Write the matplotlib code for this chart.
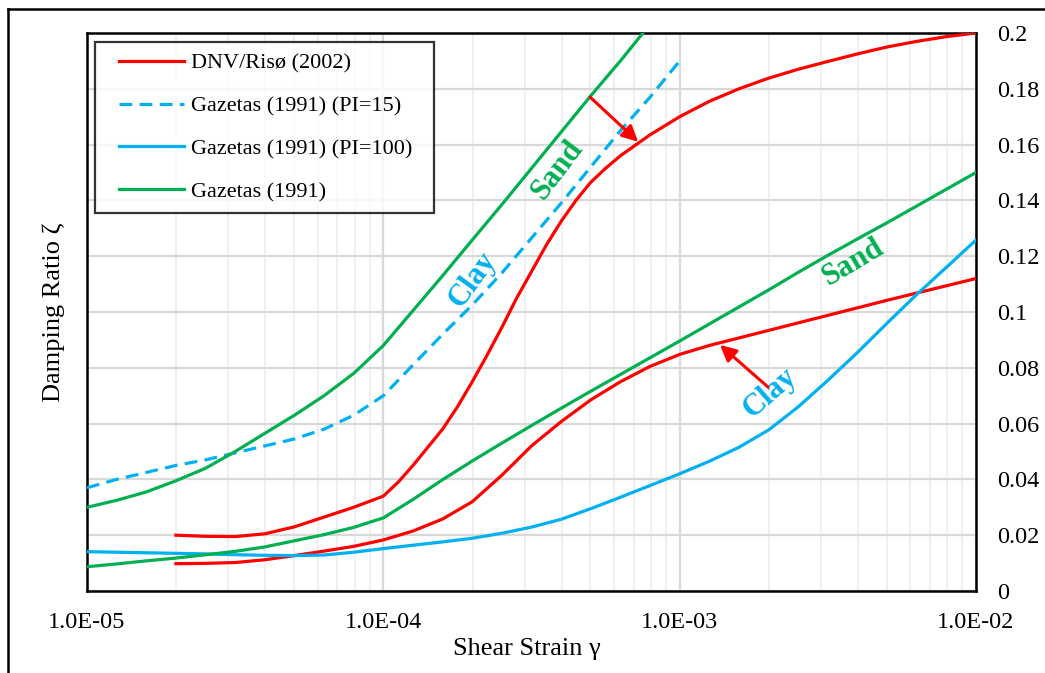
import matplotlib
matplotlib.use("Agg")
import matplotlib.pyplot as plt
from matplotlib.lines import Line2D
from matplotlib.legend_handler import HandlerLine2D
from matplotlib.ticker import FixedLocator, LogLocator, NullFormatter

plt.rcParams['font.family'] = ['Liberation Serif', 'DejaVu Serif']

# ---- data (strain given as log10 exponents) ----
# DNV/Risø (2002) upper bound
dnv_up_exp = [-4.7, -4.6, -4.5, -4.4, -4.3, -4.2, -4.1, -4.0, -3.95, -3.9, -3.85,
              -3.8, -3.75, -3.7, -3.65, -3.6, -3.55, -3.5, -3.45, -3.4, -3.35,
              -3.3, -3.25, -3.2, -3.1, -3.0, -2.9, -2.8, -2.7, -2.6, -2.5, -2.4,
              -2.3, -2.2, -2.1, -2.0]
dnv_upper = [0.020, 0.0196, 0.0195, 0.0205, 0.023, 0.0265, 0.030, 0.034, 0.039,
             0.045, 0.0515, 0.058, 0.066, 0.075, 0.0845, 0.0945, 0.105, 0.1145,
             0.124, 0.1325, 0.140, 0.1465, 0.1515, 0.156, 0.1635, 0.170, 0.1755,
             0.180, 0.1838, 0.187, 0.1898, 0.1925, 0.195, 0.197, 0.1987, 0.200]

# DNV/Risø (2002) lower bound
dnv_lo_exp = [-4.7, -4.6, -4.5, -4.4, -4.3, -4.2, -4.1, -4.0, -3.9, -3.8, -3.7,
              -3.6, -3.5, -3.4, -3.3, -3.2, -3.1, -3.0, -2.9, -2.8, -2.7, -2.6,
              -2.5, -2.4, -2.3, -2.2, -2.1, -2.0]
dnv_lower = [0.0098, 0.0099, 0.0102, 0.0112, 0.0127, 0.0143, 0.016, 0.0183,
             0.0215, 0.0258, 0.032, 0.0415, 0.052, 0.0607, 0.0685, 0.075, 0.0805,
             0.0848, 0.088, 0.0907, 0.0934, 0.0961, 0.0988, 0.1015, 0.1042,
             0.1068, 0.1094, 0.112]

# Gazetas (1991) PI=15 (clay, dashed)
pi15_exp = [-5.0, -4.9, -4.8, -4.7, -4.6, -4.5, -4.4, -4.3, -4.2, -4.1, -4.0,
            -3.9, -3.8, -3.7, -3.6, -3.5, -3.4, -3.3, -3.2, -3.1, -3.0]
pi15_damp = [0.037, 0.040, 0.0425, 0.045, 0.047, 0.0495, 0.052, 0.0545, 0.058,
             0.063, 0.070, 0.081, 0.092, 0.1025, 0.114, 0.1265, 0.139, 0.152,
             0.165, 0.177, 0.190]

# Gazetas (1991) PI=100 (clay, solid)
pi100_exp = [-5.0, -4.9, -4.8, -4.7, -4.6, -4.5, -4.4, -4.3, -4.2, -4.1, -4.0,
             -3.9, -3.8, -3.7, -3.6, -3.5, -3.4, -3.3, -3.2, -3.1, -3.0, -2.9,
             -2.8, -2.7, -2.6, -2.5, -2.4, -2.3, -2.2, -2.1, -2.0]
pi100_damp = [0.0141, 0.0139, 0.0137, 0.0135, 0.0133, 0.0130, 0.0128, 0.0127,
              0.0129, 0.0139, 0.0152, 0.0164, 0.0176, 0.0189, 0.0207, 0.0229,
              0.0257, 0.0295, 0.0336, 0.0378, 0.042, 0.0465, 0.0515, 0.0577,
              0.066, 0.0755, 0.0855, 0.096, 0.1063, 0.116, 0.1258]

# Gazetas (1991) sand upper bound
sand_up_exp = [-5.0, -4.9, -4.8, -4.7, -4.6, -4.5, -4.4, -4.3, -4.2, -4.1, -4.0,
               -3.9, -3.8, -3.7, -3.6, -3.5, -3.4, -3.3, -3.2, -3.12]
sand_upper = [0.030, 0.0325, 0.0355, 0.0395, 0.044, 0.050, 0.0565, 0.063, 0.070,
              0.078, 0.088, 0.1005, 0.113, 0.1258, 0.1385, 0.1515, 0.1645, 0.1775,
              0.190, 0.2005]

# Gazetas (1991) sand lower bound
sand_lo_exp = [-5.0, -4.9, -4.8, -4.7, -4.6, -4.5, -4.4, -4.3, -4.2, -4.1, -4.0,
               -3.9, -3.8, -3.7, -3.6, -3.5, -3.4, -3.3, -3.2, -3.1, -3.0, -2.9,
               -2.8, -2.7, -2.6, -2.5, -2.4, -2.3, -2.2, -2.1, -2.0]
sand_lower = [0.0087, 0.0097, 0.0108, 0.0118, 0.0130, 0.0142, 0.0158, 0.0180,
              0.0202, 0.0228, 0.0262, 0.0328, 0.0399, 0.0466, 0.053, 0.0593,
              0.0655, 0.0716, 0.0776, 0.0836, 0.0896, 0.0957, 0.1018, 0.1079,
              0.1142, 0.1203, 0.1262, 0.132, 0.138, 0.144, 0.150]

x_ticks = [1e-5, 1e-4, 1e-3, 1e-2]
x_ticklabels = ["1.0E-05", "1.0E-04", "1.0E-03", "1.0E-02"]
y_ticks = [0, 0.02, 0.04, 0.06, 0.08, 0.1, 0.12, 0.14, 0.16, 0.18, 0.2]
y_ticklabels = ["0", "0.02", "0.04", "0.06", "0.08", "0.1", "0.12", "0.14",
                "0.16", "0.18", "0.2"]

RED = "#FF0000"
BLUE = "#00B0F0"
GREEN = "#00B050"


def to_strain(exps):
    return [10.0 ** e for e in exps]


fig = plt.figure(figsize=(10.45, 6.73), dpi=100)
ax = fig.add_axes([87 / 1045, 1 - 591 / 673, (976 - 87) / 1045, (591 - 33) / 673])

lw = 2.3
ax.plot(to_strain(dnv_up_exp), dnv_upper, color=RED, lw=lw,
        label="DNV/Risø (2002)", zorder=3, solid_joinstyle="round")
ax.plot(to_strain(dnv_lo_exp), dnv_lower, color=RED, lw=lw, zorder=3,
        solid_joinstyle="round")
ax.plot(to_strain(pi15_exp), pi15_damp, color=BLUE, lw=lw, dashes=(4, 2.3),
        label="Gazetas (1991) (PI=15)", zorder=3)
ax.plot(to_strain(pi100_exp), pi100_damp, color=BLUE, lw=lw,
        label="Gazetas (1991) (PI=100)", zorder=3, solid_joinstyle="round")
ax.plot(to_strain(sand_up_exp), sand_upper, color=GREEN, lw=lw,
        label="Gazetas (1991)", zorder=3, solid_joinstyle="round")
ax.plot(to_strain(sand_lo_exp), sand_lower, color=GREEN, lw=lw, zorder=3,
        solid_joinstyle="round")

ax.set_xscale("log")
ax.set_xlim(1e-5, 1e-2)
ax.set_ylim(0, 0.2)

ax.xaxis.set_major_locator(FixedLocator(x_ticks))
ax.set_xticklabels(x_ticklabels)
ax.xaxis.set_minor_locator(LogLocator(base=10, subs=range(2, 10), numticks=20))
ax.xaxis.set_minor_formatter(NullFormatter())
ax.set_yticks(y_ticks)
ax.set_yticklabels(y_ticklabels)

ax.yaxis.tick_right()
ax.tick_params(axis="both", which="both", length=0, labelsize=17.5)
ax.tick_params(axis="x", pad=15)
ax.tick_params(axis="y", pad=15)

ax.grid(True, which="major", color="#d9d9d9", lw=1.6, zorder=0)
ax.grid(True, which="minor", axis="x", color="#ededed", lw=1.2, zorder=0)
ax.set_axisbelow(True)
for s in ax.spines.values():
    s.set_linewidth(1.8)
    s.set_color("black")

ax.set_xlabel("Shear Strain γ", fontsize=19)
ax.xaxis.set_label_coords(0.495, -0.085)
ax.yaxis.set_label_position("left")
ax.set_ylabel("Damping Ratio ζ", fontsize=19, labelpad=16)

leg = ax.legend(loc="upper left",
                bbox_to_anchor=(8 / 889, 1 - 9 / 558, (434 - 95) / 889, 0.0),
                mode="expand",
                fontsize=16, frameon=True, fancybox=False, borderaxespad=0,
                handlelength=3.5, labelspacing=1.0, borderpad=0.5,
                handletextpad=0.33,
                handler_map={Line2D: HandlerLine2D(xpad=0.6)})
leg.get_frame().set_edgecolor("black")
leg.get_frame().set_linewidth(1.6)

# annotations
ax.text(10 ** -3.414, 0.151, "Sand", color=GREEN, fontsize=22, fontweight="bold",
        rotation=53, ha="center", va="center", zorder=4)
ax.text(10 ** -3.697, 0.1115, "Clay", color=BLUE, fontsize=22, fontweight="bold",
        rotation=54, ha="center", va="center", zorder=4)
ax.text(10 ** -2.415, 0.1176, "Sand", color=GREEN, fontsize=22, fontweight="bold",
        rotation=31, ha="center", va="center", zorder=4)
ax.text(10 ** -2.695, 0.071, "Clay", color=BLUE, fontsize=22, fontweight="bold",
        rotation=41, ha="center", va="center", zorder=4)

ax.annotate("", xy=(10 ** -3.140, 0.161), xytext=(10 ** -3.302, 0.177),
            arrowprops=dict(arrowstyle="-|>", color=RED, lw=2.2,
                            mutation_scale=24, shrinkA=0, shrinkB=0), zorder=4)
ax.annotate("", xy=(10 ** -2.864, 0.0882), xytext=(10 ** -2.702, 0.0731),
            arrowprops=dict(arrowstyle="-|>", color=RED, lw=2.2,
                            mutation_scale=24, shrinkA=0, shrinkB=0), zorder=4)

# outer frame (left and top edges visible)
fig.add_artist(Line2D([7.5 / 1045, 7.5 / 1045], [0, 1 - 8.5 / 673],
                      transform=fig.transFigure, color="black", lw=1.8))
fig.add_artist(Line2D([7.5 / 1045, 1], [1 - 8.5 / 673, 1 - 8.5 / 673],
                      transform=fig.transFigure, color="black", lw=1.8))

fig.savefig("out.png", dpi=100)
